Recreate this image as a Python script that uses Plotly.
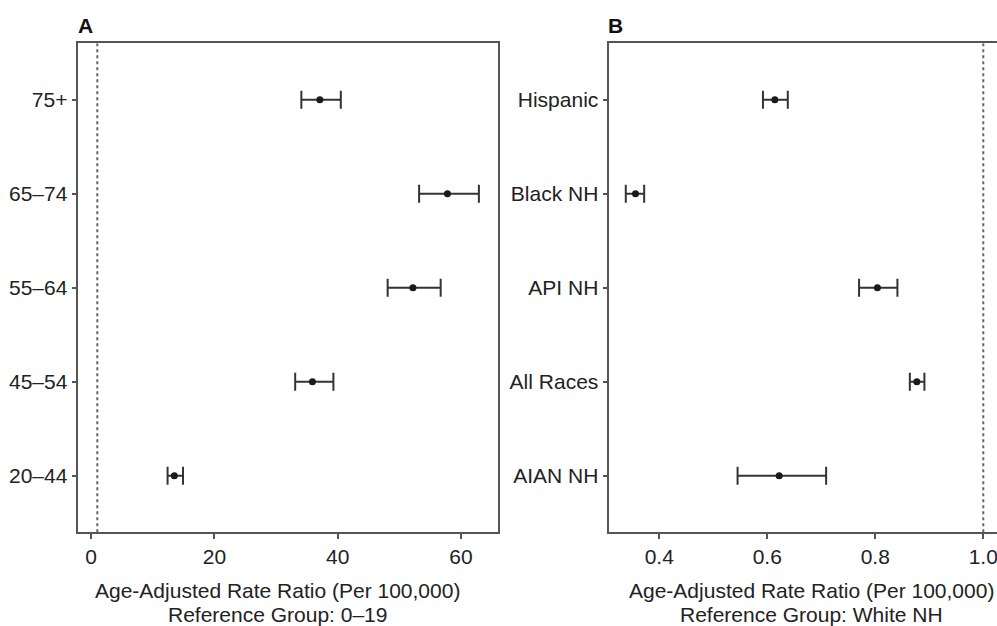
import plotly.graph_objects as go

# Panel A data (bottom to top)
age_groups = ["20–44", "45–54", "55–64", "65–74", "75+"]
age_rr = [13.5, 35.9, 52.2, 57.8, 37.1]
age_lo = [12.4, 33.1, 48.1, 53.2, 34.1]
age_hi = [14.9, 39.3, 56.7, 62.9, 40.5]

# Panel B data (bottom to top)
race_groups = ["AIAN NH", "All Races", "API NH", "Black NH", "Hispanic"]
race_rr = [0.622, 0.877, 0.804, 0.356, 0.614]
race_lo = [0.545, 0.864, 0.770, 0.338, 0.592]
race_hi = [0.709, 0.891, 0.841, 0.372, 0.638]

ref_a = 1
ref_b = 1.0
a_ticks = [0, 20, 40, 60]
b_ticks = [0.4, 0.6, 0.8, 1.0]
b_ticktext = ["0.4", "0.6", "0.8", "1.0"]

FONT = "Liberation Sans, Arial, sans-serif"
AX = "#555555"
TXT = "#222222"
FS = 21

fig = go.Figure()

def add_panel(cats, rr, lo, hi, xa, ya):
    fig.add_trace(go.Scatter(
        x=rr, y=cats, mode="markers",
        marker=dict(color="#1a1a1a", size=7),
        error_x=dict(type="data", symmetric=False,
                     array=[h - r for h, r in zip(hi, rr)],
                     arrayminus=[r - l for r, l in zip(rr, lo)],
                     color="#333333", thickness=2, width=9),
        xaxis=xa, yaxis=ya, showlegend=False, hoverinfo="x+y"))

add_panel(age_groups, age_rr, age_lo, age_hi, "x", "y")
add_panel(race_groups, race_rr, race_lo, race_hi, "x2", "y2")

# reference lines
fig.add_trace(go.Scatter(x=[ref_a, ref_a], y=[-0.6, 4.6], mode="lines",
                         line=dict(color="#666666", width=2, dash="dot"),
                         xaxis="x", yaxis="y3", showlegend=False, hoverinfo="skip"))
fig.add_trace(go.Scatter(x=[ref_b, ref_b], y=[-0.6, 4.6], mode="lines",
                         line=dict(color="#666666", width=2, dash="dot"),
                         xaxis="x2", yaxis="y4", showlegend=False, hoverinfo="skip"))

y_dom = [0.1497, 0.9308]
common_x = dict(showgrid=False, zeroline=False, showline=True, linecolor=AX, linewidth=1.5,
                ticks="outside", ticklen=5, tickcolor=AX, tickwidth=1.5,
                ticklabeloverflow="allow",
                tickfont=dict(family=FONT, size=FS, color=TXT))
common_y = dict(showgrid=False, zeroline=False, showline=True, linecolor=AX, linewidth=1.5,
                ticks="outside", ticklen=5, tickcolor=AX, tickwidth=1.5,
                tickfont=dict(family=FONT, size=FS, color=TXT), type="category",
                range=[-0.6, 4.6])

fig.update_layout(
    width=997, height=626, margin=dict(l=0, r=0, t=0, b=0),
    paper_bgcolor="white", plot_bgcolor="white",
    xaxis=dict(domain=[0.0786, 0.4995], range=[-2.07, 66.0], tickvals=a_ticks,
               anchor="y", mirror=True, **common_x),
    yaxis=dict(domain=y_dom, anchor="x", categoryarray=age_groups, mirror=True, **common_y),
    xaxis2=dict(domain=[0.6111, 1.0], range=[0.3074, 1.0254], tickvals=b_ticks,
                ticktext=b_ticktext, anchor="y2", mirror=True, **common_x),
    yaxis2=dict(domain=y_dom, anchor="x2", categoryarray=race_groups, mirror=False, **common_y),
    yaxis3=dict(domain=y_dom, range=[-0.6, 4.6], overlaying="y", visible=False),
    yaxis4=dict(domain=y_dom, range=[-0.6, 4.6], overlaying="y2", visible=False),
)

ann = []
for text, x in [("<b>A</b>", 76), ("<b>B</b>", 606)]:
    ann.append(dict(text=text, x=x / 997, y=1 - 26 / 626, xref="paper", yref="paper",
                    xanchor="left", yanchor="middle", showarrow=False,
                    font=dict(family=FONT, size=FS, color="#111111")))
for cx, l1, l2 in [(277.5, "Age-Adjusted Rate Ratio (Per 100,000)", "Reference Group: 0–19"),
                   (811, "Age-Adjusted Rate Ratio (Per 100,000)", "Reference Group: White NH")]:
    ann.append(dict(text=l1, x=cx / 997, y=1 - 590 / 626, xref="paper", yref="paper",
                    xanchor="center", yanchor="middle", showarrow=False,
                    font=dict(family=FONT, size=FS, color=TXT)))
    ann.append(dict(text=l2, x=cx / 997, y=1 - 614 / 626, xref="paper", yref="paper",
                    xanchor="center", yanchor="middle", showarrow=False,
                    font=dict(family=FONT, size=FS, color=TXT)))
fig.update_layout(annotations=ann)

fig.write_html("out.html", config={"displayModeBar": False},
               post_script="document.body.style.margin='0';document.body.style.overflow='hidden';")
